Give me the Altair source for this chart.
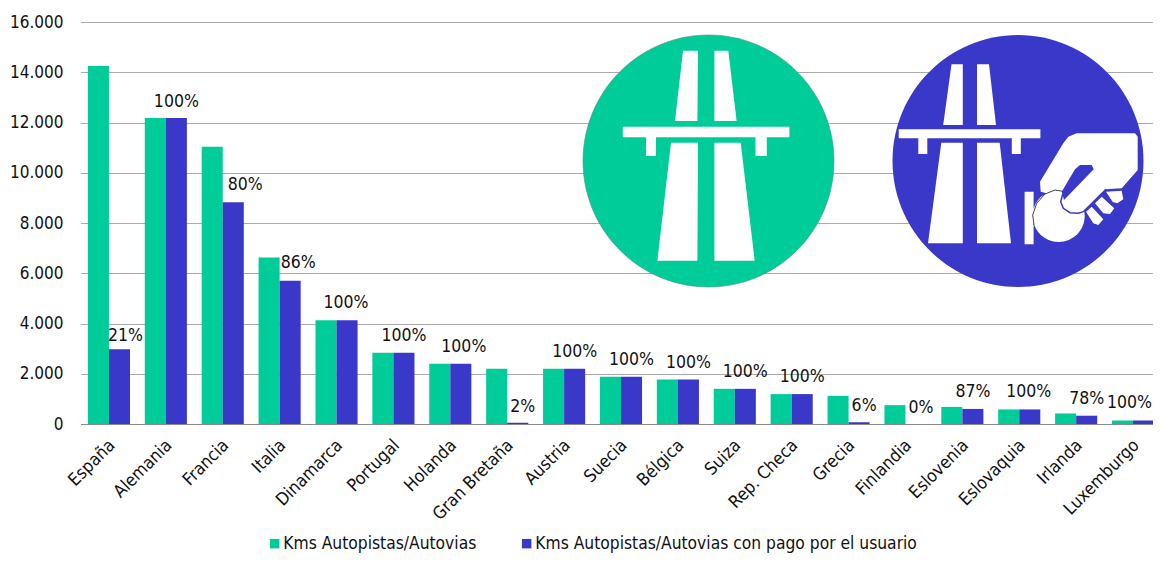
import altair as alt
import pandas as pd

FONT = "DejaVu Sans Condensed"
GREEN = "#00CC99"
BLUE = "#3A38C8"
S1 = "Kms Autopistas/Autovias"
S2 = "Kms Autopistas/Autovias con pago por el usuario"

paises = ["España", "Alemania", "Francia", "Italia", "Dinamarca", "Portugal", "Holanda",
          "Gran Bretaña", "Austria", "Suecia", "Bélgica", "Suiza", "Rep. Checa", "Grecia",
          "Finlandia", "Eslovenia", "Eslovaquia", "Irlanda", "Luxemburgo"]
kms_total = [14250, 12180, 11030, 6630, 4130, 2840, 2400, 2200, 2200, 1880, 1770, 1400,
             1190, 1120, 750, 680, 580, 420, 140]
kms_pago = [2980, 12180, 8830, 5700, 4130, 2840, 2400, 50, 2200, 1880, 1770, 1400,
            1190, 70, 0, 600, 580, 330, 140]
etiquetas = ["21%", "100%", "80%", "86%", "100%", "100%", "100%", "2%", "100%", "100%",
             "100%", "100%", "100%", "6%", "0%", "87%", "100%", "78%", "100%"]
# hand placement of each data label relative to its bar
label_dx = [6, 0, 12, 8, -1, 0, 3, 5, 0, 0, 0, 0, 0, 5, 5, 0, -1, 0, -14]
label_dy = [-13, -16, -17, -18, -17, -17, -17, -16, -17, -17, -17, -17, -17, -16, -16, -17, -17, -17, -17]

bars_df = pd.DataFrame(
    [{"pais": p, "serie": S1, "kms": v} for p, v in zip(paises, kms_total)]
    + [{"pais": p, "serie": S2, "kms": v} for p, v in zip(paises, kms_pago)]
)

x_enc = alt.X("pais:N", sort=paises, title=None,
              scale=alt.Scale(paddingInner=0.26, paddingOuter=0.13, range=[0.5, 1081.5]),
              axis=alt.Axis(labelAngle=-45, labelFontSize=17.5, labelFont=FONT, labelColor="#111111",
                            ticks=False, labelPadding=12, labelOffset=-3, domainColor="#8a8a8a",
                            domainWidth=1, grid=False, labelOverlap=False, labelLimit=200))
y_enc = alt.Y("kms:Q", title=None,
              scale=alt.Scale(domain=[0, 16000], nice=False),
              axis=alt.Axis(values=list(range(0, 16001, 2000)),
                            labelExpr="replace(format(datum.value, ',d'), ',', '.')",
                            labelFontSize=17, labelFont=FONT, labelColor="#111111", labelPadding=17,
                            ticks=False, domain=False, grid=True, gridColor="#ababab", gridWidth=1))

bars = alt.Chart(bars_df).mark_bar().encode(
    x=x_enc,
    y=y_enc,
    xOffset=alt.XOffset("serie:N", sort=[S1, S2]),
    color=alt.Color("serie:N", scale=alt.Scale(domain=[S1, S2], range=[GREEN, BLUE]), title=None,
                    legend=alt.Legend(orient="none", legendX=186, legendY=513, direction="horizontal",
                                      columns=2, columnPadding=41, symbolType="square", symbolSize=90,
                                      symbolStrokeWidth=0, labelFont=FONT, labelFontSize=17.3,
                                      labelColor="#111111", labelLimit=500, gridAlign="each",
                                      labelOffset=0)),
)

# ---- decorative road signs, drawn as symbol paths in page pixels ----
OX, OY = 80, 22


def poly(pts):
    return "M" + "L".join(f"{x - OX:.1f},{y - OY:.1f}" for x, y in pts) + "Z"


def ellipse(cx, cy, rx, ry):
    cx, cy = cx - OX, cy - OY
    return (f"M{cx - rx:.1f},{cy:.1f}A{rx},{ry} 0 1 1 {cx + rx:.1f},{cy:.1f}"
            f"A{rx},{ry} 0 1 1 {cx - rx:.1f},{cy:.1f}Z")


def z5(pts):
    return poly([(1020 + a / 3, 120 + b / 3) for a, b in pts])


def line5(pts):
    return "M" + "L".join(f"{1020 + a / 3 - OX:.1f},{120 + b / 3 - OY:.1f}" for a, b in pts)


def sign(path, fill=None, stroke=None, width=1):
    kw = dict(shape=path, size=4, opacity=1)
    if fill:
        kw.update(filled=True, fill=fill, strokeWidth=0)
    else:
        kw.update(filled=False, stroke=stroke, strokeWidth=width, fillOpacity=0)
    return alt.Chart(pd.DataFrame({"o": [0]})).mark_point(**kw).encode(x=alt.value(0), y=alt.value(0))


green_white = "".join([
    poly([(683, 50.7), (698, 50.7), (697.4, 121), (675, 121)]),
    poly([(714.4, 50.7), (728.3, 50.7), (736.6, 121), (714.4, 121)]),
    poly([(622.8, 126.7), (789.4, 126.7), (789.4, 137.3), (766.8, 137.3), (766.8, 156), (755.5, 156),
          (755.5, 137.3), (656, 137.3), (656, 156), (646, 156), (646, 137.3), (622.8, 137.3)]),
    poly([(671, 142.7), (698, 142.7), (697.4, 260.7), (657.4, 260.7)]),
    poly([(714.4, 142.7), (740.7, 142.7), (754.7, 260.7), (714.4, 260.7)]),
])
blue_white = "".join([
    poly([(951.5, 64.3), (962.8, 64.3), (962.8, 125), (943.2, 125)]),
    poly([(977, 64.3), (989, 64.3), (996, 125), (977, 125)]),
    poly([(898.7, 129.3), (1040.4, 129.3), (1040.4, 138.3), (1020.8, 138.3), (1020.8, 154), (1011.8, 154),
          (1011.8, 138.3), (927.3, 138.3), (927.3, 154), (918.3, 154), (918.3, 138.3), (898.7, 138.3)]),
    poly([(941.3, 142.7), (962.8, 142.7), (962.8, 243.3), (928, 243.3)]),
    poly([(977, 142.7), (999.7, 142.7), (1011, 243.3), (977, 243.3)]),
    poly([(1024.6, 191.7), (1033.6, 191.7), (1033.6, 244.3), (1024.6, 244.3)]),
    z5([(60, 185), (130, 70), (145, 50), (170, 40), (345, 40), (353, 50), (353, 150), (305, 205),
        (258, 208), (190, 275), (140, 280), (120, 230), (62, 215)]),
    ellipse(1058.7, 216, 26, 26),
    z5([(258, 215), (305, 212), (310, 238), (292, 250), (278, 246)]),
    z5([(225, 250), (245, 230), (283, 265), (270, 282), (250, 280)]),
    z5([(198, 275), (215, 260), (250, 298), (235, 315), (220, 310)]),
])
slot = z5([(165, 148), (180, 135), (215, 135), (221, 148), (132, 240), (125, 215)])
thumb = line5([(128, 222), (122, 245), (130, 265), (150, 278), (175, 280), (190, 275), (258, 208)])
coin_edge = line5([(42, 315), (38, 285), (50, 250), (75, 222), (105, 210), (128, 214)])

signs = [
    sign(ellipse(708.5, 161, 125.5, 126), fill=GREEN),
    sign(ellipse(708.5, 161, 125.5, 126), stroke="#4f8f7c", width=0.6),
    sign(green_white, fill="#ffffff"),
    sign(ellipse(1018, 161, 125.5, 126), fill=BLUE),
    sign(blue_white, fill="#ffffff"),
    sign(coin_edge, stroke="#444444", width=1),
    sign(slot, fill=BLUE),
    sign(thumb, stroke=BLUE, width=1.5),
]

# ---- data labels above the blue bars ----
texts = []
for pais, valor, txt, dx, dy in zip(paises, kms_pago, etiquetas, label_dx, label_dy):
    row = pd.DataFrame({"pais": [pais], "serie": [S2], "kms": [valor], "txt": [txt]})
    texts.append(
        alt.Chart(row).mark_text(font=FONT, fontSize=17.5, color="#111111", baseline="middle",
                                 align="center", dx=dx, dy=dy).encode(
            x=alt.X("pais:N", sort=paises),
            y=alt.Y("kms:Q"),
            xOffset=alt.XOffset("serie:N", sort=[S1, S2], scale=alt.Scale(domain=[S1, S2])),
            text="txt:N",
        )
    )

chart = alt.layer(bars, *signs, *texts).properties(
    width=1073, height=402,
    padding={"left": 72, "top": 14, "right": 0, "bottom": 129},
    autosize=alt.AutoSizeParams(type="none"),
    background="#ffffff",
).configure_view(stroke=None)

chart.save("out.html", embed_options={"renderer": "svg", "actions": False})
